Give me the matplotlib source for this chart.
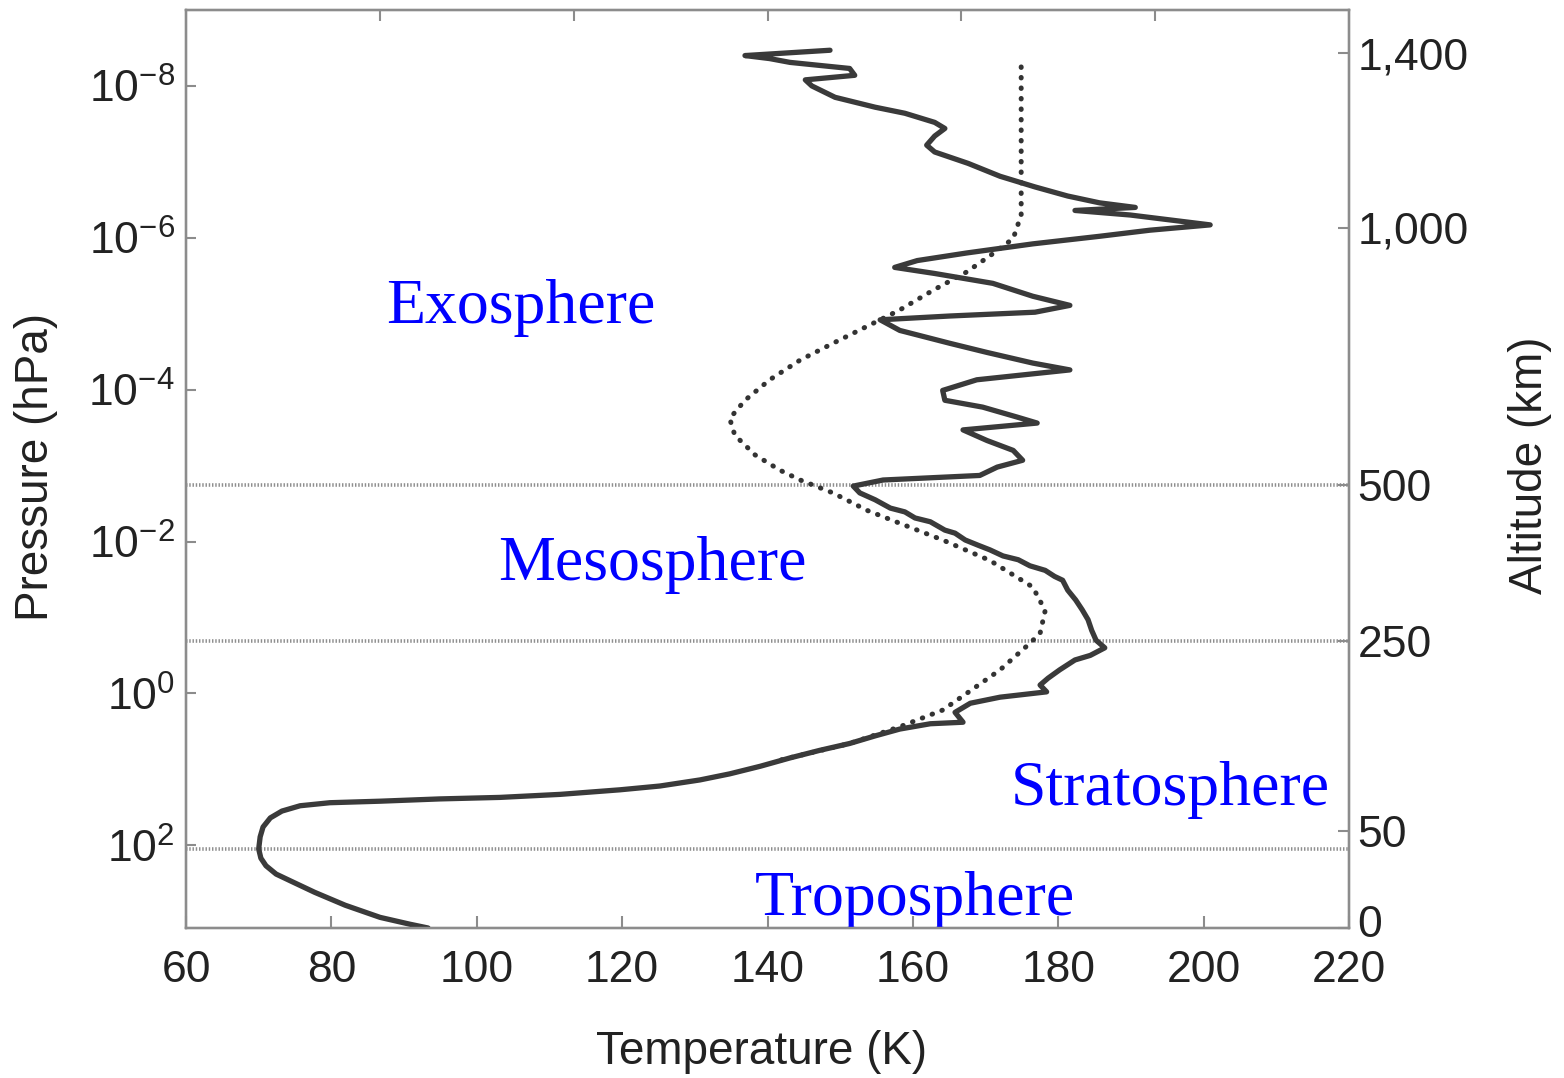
import numpy as np
import matplotlib
matplotlib.use("Agg")
import matplotlib.pyplot as plt
from matplotlib.transforms import ScaledTranslation

plt.rcParams['font.family'] = ['Liberation Sans', 'DejaVu Sans']
plt.rcParams['mathtext.fontset'] = 'custom'
plt.rcParams['mathtext.rm'] = 'Liberation Sans'
plt.rcParams['mathtext.it'] = 'Liberation Sans:italic'
plt.rcParams['mathtext.bf'] = 'Liberation Sans:bold'

# ---- measured (solid) temperature profile: temperature (K) and log10 pressure (hPa)
measured_T = [148.6, 136.9, 140.3, 143.1, 151.3, 152.0, 145.2, 146.1, 149.3, 154.8,
              158.9, 163.0, 164.4, 163.0, 161.9, 163.0, 167.6, 172.0, 176.8, 181.3,
              185.7, 190.6, 182.3, 189.9, 200.9, 192.6, 185.7, 176.5, 167.4, 160.6,
              157.5, 163.0, 171.0, 176.5, 181.6, 176.8, 165.1, 155.5, 158.2, 165.1,
              170.2, 176.5, 181.6, 168.8, 164.1, 164.4, 169.6, 174.3, 177.1, 166.9,
              170.2, 173.8, 175.1, 171.6, 169.2, 155.9, 151.8, 152.7,
              154.8, 156.9, 158.9, 160.3, 162.4, 164.4, 165.8, 167.2, 169.0, 170.6,
              172.4, 174.5, 176.1, 178.2, 179.5, 180.6, 181.3, 182.4, 183.3, 184.1,
              184.6, 185.2, 186.4, 184.4, 182.3, 180.2, 178.6, 177.5, 178.4, 172.0,
              167.9, 165.8, 166.9, 162.4, 158.2, 154.8, 151.3, 147.2, 143.1, 139.0,
              134.8, 130.7, 125.2, 119.7, 111.5, 103.2, 94.9, 86.7, 79.8, 75.7,
              73.2, 71.6, 70.6, 70.2, 70.0, 70.3, 71.0, 72.4, 74.6, 77.7,
              81.9, 86.7, 90.8, 93.3]
measured_logp = [-8.47, -8.40, -8.36, -8.31, -8.23, -8.14, -8.08, -8.00, -7.85, -7.72,
                 -7.64, -7.52, -7.44, -7.34, -7.22, -7.13, -6.98, -6.81, -6.67, -6.55,
                 -6.46, -6.40, -6.36, -6.30, -6.17, -6.10, -6.02, -5.92, -5.80, -5.70,
                 -5.61, -5.53, -5.40, -5.23, -5.11, -5.02, -4.97, -4.92, -4.78, -4.61,
                 -4.49, -4.35, -4.26, -4.13, -3.99, -3.86, -3.77, -3.64, -3.56, -3.47,
                 -3.33, -3.20, -3.07, -2.98, -2.87, -2.81, -2.73, -2.64,
                 -2.55, -2.44, -2.39, -2.31, -2.26, -2.15, -2.11, -2.02, -1.95, -1.89,
                 -1.81, -1.76, -1.68, -1.62, -1.54, -1.49, -1.36, -1.23, -1.10, -0.97,
                 -0.83, -0.70, -0.60, -0.50, -0.44, -0.31, -0.20, -0.11, -0.02, 0.05,
                 0.13, 0.25, 0.38, 0.40, 0.47, 0.56, 0.66, 0.75, 0.85, 0.96,
                 1.06, 1.14, 1.22, 1.27, 1.33, 1.37, 1.39, 1.42, 1.44, 1.48,
                 1.55, 1.64, 1.76, 1.89, 2.05, 2.17, 2.27, 2.38, 2.48, 2.62,
                 2.79, 2.95, 3.04, 3.09]

# ---- model (dotted) profile
model_T = [174.9, 174.9, 173.8, 171.0, 167.4, 162.8, 158.2, 155.5, 149.0, 144.5,
           140.3, 136.9, 134.8, 135.5, 138.3, 141.7, 144.5, 149.0, 153.7, 158.2,
           164.1, 170.6, 176.5, 178.2, 177.5, 176.1, 172.0, 167.4, 164.1, 158.2,
           151.3, 141.7]
model_logp = [-8.25, -6.30, -5.99, -5.79, -5.55, -5.31, -5.05, -4.92, -4.61, -4.39,
              -4.13, -3.86, -3.62, -3.40, -3.14, -2.94, -2.81, -2.64, -2.41, -2.24,
              -2.02, -1.75, -1.40, -1.09, -0.79, -0.66, -0.31, -0.00, 0.22, 0.44,
              0.66, 0.88]

# ---- layer boundaries (log10 hPa)
boundary_logp = [-2.74, -0.69, 2.05]

# ---- axes ticks
temp_ticks = [60, 80, 100, 120, 140, 160, 180, 200, 220]
pressure_exponents = [-8, -6, -4, -2, 0, 2]
altitude_labels = ['0', '50', '250', '500', '1,000', '1,400']
altitude_logp = [3.09, 1.81, -0.69, -2.74, -6.13, -8.43]

# ---- layer names
layer_names = ['Exosphere', 'Mesosphere', 'Stratosphere', 'Troposphere']
layer_T = [106.0, 124.1, 195.4, 160.3]
layer_logp = [-5.07, -1.69, 1.27, 2.72]

ylim_logp = (3.09, -9.0)

W, H = 1564, 1078
fig = plt.figure(figsize=(W / 100, H / 100), dpi=100)
ax = fig.add_axes([186 / W, 1 - 928 / H, (1349 - 186) / W, (928 - 10) / H])

spine_col = '#8c8c8c'
txt_col = '#222222'

for lp in boundary_logp:
    ax.axhline(10 ** lp, color='#8f8f8f', lw=2.6, linestyle=(0, (0.4, 0.5)), zorder=1)

ax.plot(model_T, 10 ** np.array(model_logp), color='#333333', lw=3.6,
        linestyle=(0, (0.1, 2.0)), dash_capstyle='round', zorder=2)
ax.plot(measured_T, 10 ** np.array(measured_logp), color='#3a3a3a', lw=3.8,
        solid_joinstyle='round', solid_capstyle='round', zorder=3)

ax.set_yscale('log')
ax.set_xlim(60, 220)
ax.set_ylim(10 ** ylim_logp[0], 10 ** ylim_logp[1])
ax.set_xticks(temp_ticks)
ax.set_xticklabels([str(t) for t in temp_ticks])
ax.set_yticks([10.0 ** e for e in pressure_exponents])
ax.set_yticklabels([r'$10^{%d}$' % e for e in pressure_exponents])
ax.yaxis.set_minor_locator(matplotlib.ticker.NullLocator())
ax.tick_params(axis='x', direction='in', length=9, width=1.5, color=spine_col,
               labelsize=32, labelcolor=txt_col, pad=16)
ax.tick_params(axis='y', direction='in', length=7, width=1.5, color=spine_col,
               labelsize=32, labelcolor=txt_col, pad=8)
for s in ax.spines.values():
    s.set_color(spine_col)
    s.set_linewidth(1.6)

ax.set_xlabel('Temperature (K)', fontsize=33, color=txt_col)
ax.xaxis.set_label_coords((762 - 186) / 1163, -(1052 - 928) / 918)
ax.xaxis.label.set_va('center')
ax.set_ylabel('Pressure (hPa)', fontsize=33, color=txt_col)
ax.yaxis.set_label_coords((36 - 186) / 1163, (928 - 467) / 918)
ax.yaxis.label.set_va('center')

# right altitude axis
ax2 = ax.twinx()
ax2.set_yscale('log')
ax2.set_ylim(ax.get_ylim())
ax2.set_yticks([10.0 ** v for v in altitude_logp])
ax2.set_yticklabels(altitude_labels)
ax2.yaxis.set_minor_locator(matplotlib.ticker.NullLocator())
ax2.tick_params(axis='y', direction='in', length=8, width=1.5, color=spine_col,
                labelsize=32, labelcolor=txt_col, pad=6)
for s in ax2.spines.values():
    s.set_color(spine_col)
    s.set_linewidth(1.6)
ax2.set_ylabel('Altitude (km)', fontsize=33, color=txt_col)
ax2.yaxis.set_label_coords((1530 - 186) / 1163, (928 - 465) / 918)
ax2.yaxis.label.set_va('center')
for lab in ax2.get_yticklabels():
    if lab.get_text() == '0':
        lab.set_transform(lab.get_transform() + ScaledTranslation(0, 5 / 72, fig.dpi_scale_trans))

# top ticks (unlabelled)
ax3 = ax.twiny()
ax3.set_xlim(0, 6)
ax3.set_xticks([1, 2, 3, 4, 5])
ax3.set_xticklabels([])
ax3.tick_params(axis='x', direction='in', length=8, width=1.5, color=spine_col)
for s in ax3.spines.values():
    s.set_color(spine_col)
    s.set_linewidth(1.6)

for name, t, lp in zip(layer_names, layer_T, layer_logp):
    ax.text(t, 10 ** lp, name, color='#0000ff', fontsize=46,
            family=['Liberation Serif', 'DejaVu Serif'], ha='center', va='center', zorder=4)

fig.savefig('out.png', dpi=100)
